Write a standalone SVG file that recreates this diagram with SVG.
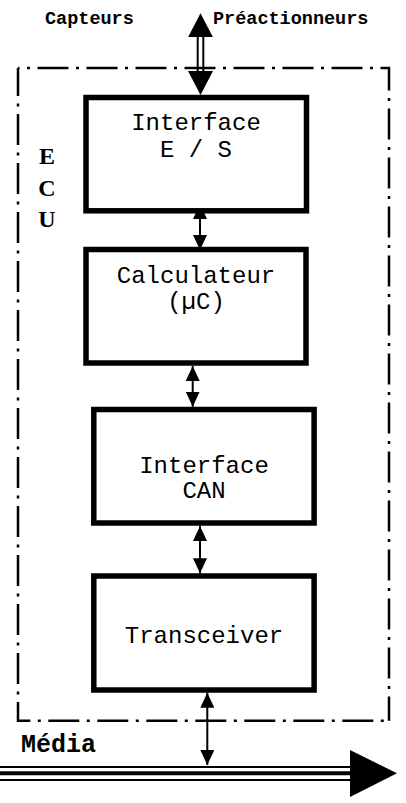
<svg xmlns="http://www.w3.org/2000/svg" width="406" height="803" viewBox="0 0 406 803">
<style>
.box{fill:#fff;stroke:#000;stroke-width:5.5}
.bt{font-family:"Courier New","Nimbus Mono PS","Nimbus Mono L",FreeMono,Courier,"Liberation Mono",monospace;font-size:24px;fill:#000;text-anchor:middle}
.lbl{font-family:"Courier New","Nimbus Mono PS","Nimbus Mono L",FreeMono,Courier,"Liberation Mono",monospace;font-weight:bold;fill:#000}
.ecu{font-family:"Liberation Serif","Times New Roman",serif;font-weight:bold;font-size:24px;fill:#000;text-anchor:middle}
.bd{fill:none;stroke:#000;stroke-width:2.5;stroke-dasharray:31 7.5 3 7.5}
.sh{stroke:#000;stroke-width:2;fill:none}
</style>
<defs>
<marker id="ah" markerUnits="userSpaceOnUse" markerWidth="15" markerHeight="14" refX="15" refY="7" orient="auto-start-reverse" viewBox="0 0 15 14">
<path d="M0,0 L15,7 L0,14 z" fill="#000"/>
</marker>
<marker id="big" markerUnits="userSpaceOnUse" markerWidth="24" markerHeight="25" refX="24" refY="12.5" orient="auto-start-reverse" viewBox="0 0 24 25">
<path d="M0,0 L24,12.5 L0,25 z" fill="#000"/>
</marker>
</defs>
<rect width="406" height="803" fill="#fff"/>
<g id="ecu-border">
<path class="bd" d="M18,68 H389 V720.7" stroke-dashoffset="29.5"/>
<path class="bd" d="M18,68 V720.7 H389" stroke-dashoffset="3"/>
</g>
<g id="labels">
<text class="lbl" x="45" y="23.5" font-size="18.5">Capteurs</text>
<text class="lbl" x="213" y="23.5" font-size="18.5">Préactionneurs</text>
<text class="lbl" x="21" y="751.7" font-size="25">Média</text>
<text class="ecu" x="47" y="164">E</text>
<text class="ecu" x="47" y="196">C</text>
<text class="ecu" x="47" y="227">U</text>
</g>
<g id="connectors">
<line class="sh" x1="197.7" y1="36" x2="197.7" y2="75"/>
<line class="sh" x1="203.3" y1="36" x2="203.3" y2="75"/>
<path d="M200.5,13.3 V95" stroke="none" fill="none" marker-start="url(#big)" marker-end="url(#big)"/>
<line class="sh" x1="200" y1="204" x2="200" y2="250" marker-start="url(#ah)" marker-end="url(#ah)"/>
<line class="sh" x1="192.7" y1="366" x2="192.7" y2="406.7" marker-start="url(#ah)" marker-end="url(#ah)"/>
<line class="sh" x1="200" y1="526" x2="200" y2="573.3" marker-start="url(#ah)" marker-end="url(#ah)"/>
<line class="sh" x1="207.3" y1="692.7" x2="207.3" y2="765" marker-start="url(#ah)" marker-end="url(#ah)"/>
</g>
<g id="media">
<line x1="0" y1="767" x2="352" y2="767" stroke="#000" stroke-width="2"/>
<line x1="0" y1="773.3" x2="352" y2="773.3" stroke="#000" stroke-width="4"/>
<line x1="0" y1="780" x2="352" y2="780" stroke="#000" stroke-width="2"/>
<polygon points="350,750 397,773.3 350,797" fill="#000"/>
</g>
<g id="interface-es">
<rect class="box" x="86" y="97.5" width="220.5" height="113.3"/>
<text class="bt" x="196" y="130">Interface</text>
<text class="bt" x="196" y="156.7">E / S</text>
</g>
<g id="calculateur">
<rect class="box" x="86" y="249.5" width="220" height="113.5"/>
<text class="bt" x="196" y="282.7">Calculateur</text>
<text class="bt" x="196" y="309">(µC)</text>
</g>
<g id="interface-can">
<rect class="box" x="93.8" y="409.5" width="220.3" height="113.5"/>
<text class="bt" x="204" y="473.3">Interface</text>
<text class="bt" x="204" y="498.3">CAN</text>
</g>
<g id="transceiver">
<rect class="box" x="93.8" y="576" width="220.3" height="114"/>
<text class="bt" x="204" y="642.7">Transceiver</text>
</g>
</svg>
